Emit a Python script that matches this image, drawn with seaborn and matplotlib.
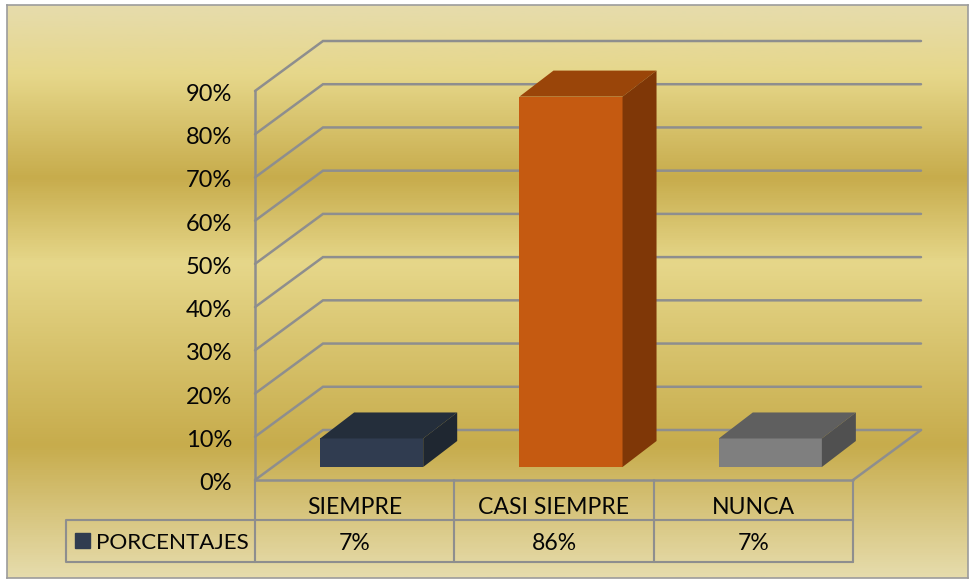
import matplotlib
matplotlib.use("Agg")
import matplotlib.pyplot as plt
import numpy as np
import pandas as pd
import seaborn as sns
from matplotlib.colors import LinearSegmentedColormap
from matplotlib.patches import Polygon, Rectangle
from matplotlib.transforms import ScaledTranslation

categories = ["SIEMPRE", "CASI SIEMPRE", "NUNCA"]
porcentajes = [6.6, 85.7, 6.6]
table_labels = ["7%", "86%", "7%"]
y_ticks = [0, 10, 20, 30, 40, 50, 60, 70, 80, 90]
series_name = "PORCENTAJES"
front_colors = ["#303C50", "#C55A11", "#7F7F7F"]
top_colors = ["#242E3B", "#9A4509", "#5F5F5F"]
side_colors = ["#1F2731", "#7F3707", "#505050"]

W, H = 970, 580
GRID = "#8E8E8E"
TEXT = "#050505"
FS = 17.0
FS2 = 16.6
sns.set_theme(style="white")
plt.rcParams["font.family"] = ["Lato", "DejaVu Sans"]


def axes_rect(x0, x1, ytop, ybot):
    return [x0 / W, 1 - ybot / H, (x1 - x0) / W, (ybot - ytop) / H]


fig = plt.figure(figsize=(W / 100, H / 100), dpi=100, facecolor="white")

# gold gradient background
bg = fig.add_axes(axes_rect(7, 968, 5, 578), zorder=0)
cmap = LinearSegmentedColormap.from_list(
    "gold",
    [(0, "#E6DCAC"), (0.12, "#E6D78A"), (0.30, "#C7AC4C"),
     (0.45, "#E6D78A"), (0.77, "#C7AC4C"), (1, "#E6DCAC")],
)
bg.imshow(np.linspace(0, 1, 600).reshape(-1, 1), aspect="auto", cmap=cmap, vmin=0, vmax=1)
bg.set_xticks([])
bg.set_yticks([])
for s in bg.spines.values():
    s.set_color("#9C9C9C")
    s.set_linewidth(1.2)

# main (front-plane) axes holding the walls, floor and labels
x0, x1, y0, y90 = 255, 853, 480, 91
ax = fig.add_axes(axes_rect(x0, x1, y90, y0), zorder=1)
ax.patch.set_alpha(0)
ax.set_xlim(-0.5, 2.5)
ax.set_ylim(0, 90)
px_x = 3 / (x1 - x0)
px_y = 90 / (y0 - y90)
dx, dy = 68 * px_x, 50 * px_y
lw = 1.8
for v in y_ticks:
    ax.plot([-0.5, -0.5 + dx, 2.5 + dx], [v, v + dy, v + dy], color=GRID, lw=lw, clip_on=False, zorder=1,
            solid_joinstyle="miter")
ax.plot([2.5, 2.5 + dx], [0, dy], color=GRID, lw=lw, clip_on=False, zorder=1)
ax.plot([-0.5, 2.5], [0, 0], color=GRID, lw=lw, clip_on=False, zorder=1)
ax.plot([-0.5, -0.5], [0, 90], color=GRID, lw=lw, clip_on=False, zorder=1)
ax.set_yticks(y_ticks)
ax.set_yticklabels([f"{v}%" for v in y_ticks], fontsize=FS, color=TEXT)
ax.set_xticks(range(len(categories)))
ax.set_xticklabels(categories, fontsize=FS2, color=TEXT)
ax.tick_params(axis="y", length=0, pad=16.5)
ax.tick_params(axis="x", length=0, pad=12)
shift = ScaledTranslation(0, -1.5 / 100, fig.dpi_scale_trans)
for lab in ax.get_yticklabels():
    lab.set_transform(lab.get_transform() + shift)
for s in ax.spines.values():
    s.set_visible(False)

# data table under the plot
trans_y = lambda p: -(p - y0) * px_y
for xv in [-0.5, 0.5, 1.5, 2.5]:
    ax.plot([xv, xv], [0, trans_y(562)], color=GRID, lw=lw * 0.85, clip_on=False, zorder=1)
ax.plot([-0.5, 2.5], [trans_y(520)] * 2, color=GRID, lw=lw * 0.85, clip_on=False, zorder=1)
xl = -0.5 - (255 - 66) * px_x
ax.plot([-0.5, xl, xl, 2.5], [trans_y(520), trans_y(520), trans_y(562), trans_y(562)],
        color=GRID, lw=lw * 0.85, clip_on=False, zorder=1)
for i, v in enumerate(table_labels):
    ax.text(i, trans_y(541), v, ha="center", va="center_baseline", fontsize=FS2, color=TEXT)
ax.add_patch(Rectangle((-0.5 - 180 * px_x, trans_y(548)), 15 * px_x, 15 * px_y,
                       color=front_colors[0], clip_on=False))
ax.text(-0.5 - 6 * px_x, trans_y(541), series_name, ha="right", va="center_baseline",
        fontsize=FS2 * 0.97, color=TEXT)

# bars: drawn half-way into the floor depth
bx = fig.add_axes(axes_rect(x0 + 17, x1 + 17, y90 - 13, y0 - 13), zorder=2)
bx.patch.set_alpha(0)
df = pd.DataFrame({"categoria": categories, "porcentaje": porcentajes})
sns.barplot(data=df, x="categoria", y="porcentaje", hue="categoria", palette=front_colors,
            width=0.517, legend=False, ax=bx, saturation=1, linewidth=0)
bx.set_xlim(-0.5, 2.5)
bx.set_ylim(0, 90)
bx.axis("off")
ddx, ddy = dx / 2, dy * 0.52
for bar, c_top, c_side in zip(bx.patches, top_colors, side_colors):
    a, w, h = bar.get_x(), bar.get_width(), bar.get_height()
    bar.set_clip_on(False)
    bx.add_patch(Polygon([(a, h), (a + w, h), (a + w + ddx, h + ddy), (a + ddx, h + ddy)],
                         closed=True, fc=c_top, ec="none", clip_on=False))
    bx.add_patch(Polygon([(a + w, 0), (a + w + ddx, ddy), (a + w + ddx, h + ddy), (a + w, h)],
                         closed=True, fc=c_side, ec="none", clip_on=False))

fig.savefig("out.png", dpi=100, facecolor="white")
